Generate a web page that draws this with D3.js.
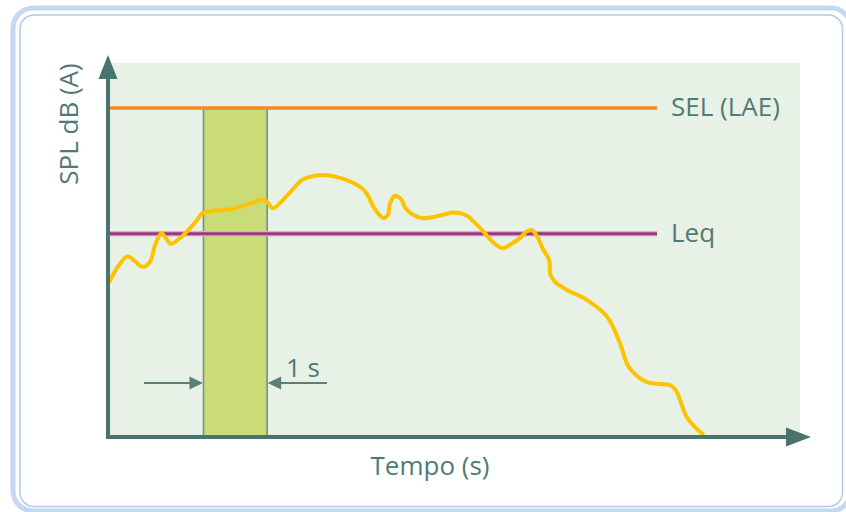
<!DOCTYPE html>
<html>
<head>
<meta charset="utf-8">
<script src="https://cdn.jsdelivr.net/npm/d3@7"></script>
<style>
  html, body { margin: 0; padding: 0; background: #ffffff; }
  svg { display: block; }
  text { font-family: "Open Sans", "Noto Sans", sans-serif; fill: #527a75; }
</style>
</head>
<body>
<svg id="chart" width="846" height="512"></svg>
<script>
// Sound level trace over time (seconds, dB(A))
const timeSec = [0.01, 0.16, 0.31, 0.42, 0.55, 0.66, 0.74, 0.84, 0.91, 0.99,
  1.13, 1.29, 1.40, 1.48, 1.60, 1.96, 2.23, 2.42, 2.50, 2.59,
  2.81, 3.06, 3.25, 3.44, 3.75, 3.99, 4.08, 4.16, 4.24, 4.33,
  4.40, 4.43, 4.51, 4.60, 4.68, 4.80, 4.95, 5.21, 5.42, 5.64,
  5.78, 5.92, 6.06, 6.20, 6.34, 6.47, 6.58, 6.66, 6.74, 6.83,
  6.93, 6.95, 7.04, 7.21, 7.52, 7.84, 8.04, 8.17, 8.31, 8.47,
  8.67, 8.83, 8.92, 9.00, 9.09, 9.22, 9.34];
const levelDb = [64.7, 67.4, 69.0, 68.2, 67.3, 68.1, 70.8, 72.7, 71.9, 71.0,
  71.9, 73.5, 74.8, 75.9, 76.2, 76.6, 77.4, 78.1, 77.7, 76.7,
  78.7, 81.3, 81.9, 82.0, 81.2, 79.9, 78.8, 77.1, 75.9, 75.1,
  75.7, 77.5, 78.7, 78.2, 76.6, 75.6, 75.1, 75.5, 76.0, 75.5,
  74.2, 72.7, 71.1, 70.3, 71.0, 71.9, 73.0, 73.2, 72.2, 70.2,
  68.4, 66.0, 64.7, 63.6, 62.0, 59.3, 55.1, 51.4, 49.8, 48.8,
  48.5, 48.3, 47.5, 45.5, 43.2, 41.6, 40.5];

// Reference levels
const levelNames = ["SEL (LAE)", "Leq"];
const levelValues = [92.8, 72.6];
const levelColors = ["#f28a22", "#9a3a7c"];

// One-second integration window
const windowStart = 1.5;
const windowEnd = 2.5;
const windowLabel = "1 s";

const xTitle = "Tempo (s)";
const yTitle = "SPL dB (A)";

const svg = d3.select("#chart");
const axisColor = "#4a7370";

const x = d3.scaleLinear().domain([0, 10.87]).range([108, 800]);
const y = d3.scaleLinear().domain([40, 100]).range([437, 63]);

// Card frame
svg.append("rect")
  .attr("x", 13).attr("y", 8).attr("width", 838).attr("height", 503)
  .attr("rx", 20).attr("fill", "none")
  .attr("stroke", "#c4d8f1").attr("stroke-width", 5);
svg.append("rect")
  .attr("x", 20).attr("y", 15).attr("width", 822.5).attr("height", 491.5)
  .attr("rx", 14).attr("fill", "#ffffff")
  .attr("stroke", "#b2caec").attr("stroke-width", 1.5);

// Plot background
svg.append("rect")
  .attr("x", x.range()[0]).attr("y", y.range()[1])
  .attr("width", x.range()[1] - x.range()[0])
  .attr("height", y.range()[0] - y.range()[1])
  .attr("fill", "#e8f1e6");

// Integration window bar, from the SEL level down to the time axis
svg.append("rect")
  .attr("x", x(windowStart)).attr("y", y(levelValues[0]))
  .attr("width", x(windowEnd) - x(windowStart))
  .attr("height", y(40) - y(levelValues[0]))
  .attr("fill", "#c9dc78")
  .attr("stroke", "#6f928c").attr("stroke-width", 1.6);

// Reference level lines and labels
const lineEndX = 657;
levelValues.forEach((v, i) => {
  if (i === 1) {
    svg.append("line")
      .attr("x1", x(0) + 2).attr("x2", lineEndX)
      .attr("y1", y(v)).attr("y2", y(v))
      .attr("stroke", "#d9b3cc").attr("stroke-width", 5.5);
  }
  svg.append("line")
    .attr("x1", x(0) + 2).attr("x2", lineEndX)
    .attr("y1", y(v)).attr("y2", y(v))
    .attr("stroke", levelColors[i]).attr("stroke-width", i === 0 ? 3.5 : 3);
  svg.append("text")
    .attr("x", 671).attr("y", y(v) + 8)
    .attr("font-size", 26)
    .text(levelNames[i]);
});

// Level trace
const line = d3.line()
  .x((d, i) => x(timeSec[i]))
  .y(d => y(d))
  .curve(d3.curveCatmullRom.alpha(0.5));
svg.append("path")
  .datum(levelDb)
  .attr("d", line)
  .attr("fill", "none")
  .attr("stroke", "#fdc300")
  .attr("stroke-width", 4)
  .attr("stroke-linecap", "round")
  .attr("stroke-linejoin", "round");

// Axes with arrowheads
svg.append("line")
  .attr("x1", x(0)).attr("x2", x(0))
  .attr("y1", y(40) + 2).attr("y2", 74)
  .attr("stroke", axisColor).attr("stroke-width", 4);
svg.append("path")
  .attr("d", `M${x(0)},55 L${x(0) + 9.5},79 L${x(0) - 9.5},79 Z`)
  .attr("fill", axisColor);
svg.append("line")
  .attr("x1", x(0) - 2).attr("x2", 790)
  .attr("y1", y(40)).attr("y2", y(40))
  .attr("stroke", axisColor).attr("stroke-width", 4);
svg.append("path")
  .attr("d", `M811,${y(40)} L786,${y(40) - 9.5} L786,${y(40) + 9.5} Z`)
  .attr("fill", axisColor);

// Width markers for the window
const dimY = 383;
const dimColor = "#5a7f7a";
const xs = x(windowStart), xe = x(windowEnd);
svg.append("line")
  .attr("x1", 144).attr("x2", xs - 10).attr("y1", dimY).attr("y2", dimY)
  .attr("stroke", dimColor).attr("stroke-width", 2);
svg.append("path")
  .attr("d", `M${xs - 0.5},${dimY} L${xs - 14},${dimY - 6.5} L${xs - 14},${dimY + 6.5} Z`)
  .attr("fill", dimColor);
svg.append("line")
  .attr("x1", xe + 10).attr("x2", 327).attr("y1", dimY).attr("y2", dimY)
  .attr("stroke", dimColor).attr("stroke-width", 2);
svg.append("path")
  .attr("d", `M${xe + 0.5},${dimY} L${xe + 14},${dimY - 6.5} L${xe + 14},${dimY + 6.5} Z`)
  .attr("fill", dimColor);
svg.append("text")
  .attr("x", 286).attr("y", 377)
  .attr("font-size", 26)
  .text(windowLabel);

// Axis titles
svg.append("text")
  .attr("x", 430).attr("y", 475)
  .attr("text-anchor", "middle")
  .attr("font-size", 26)
  .text(xTitle);
svg.append("text")
  .attr("transform", "translate(78,124) rotate(-90)")
  .attr("text-anchor", "middle")
  .attr("font-size", 26)
  .text(yTitle);
</script>
</body>
</html>
